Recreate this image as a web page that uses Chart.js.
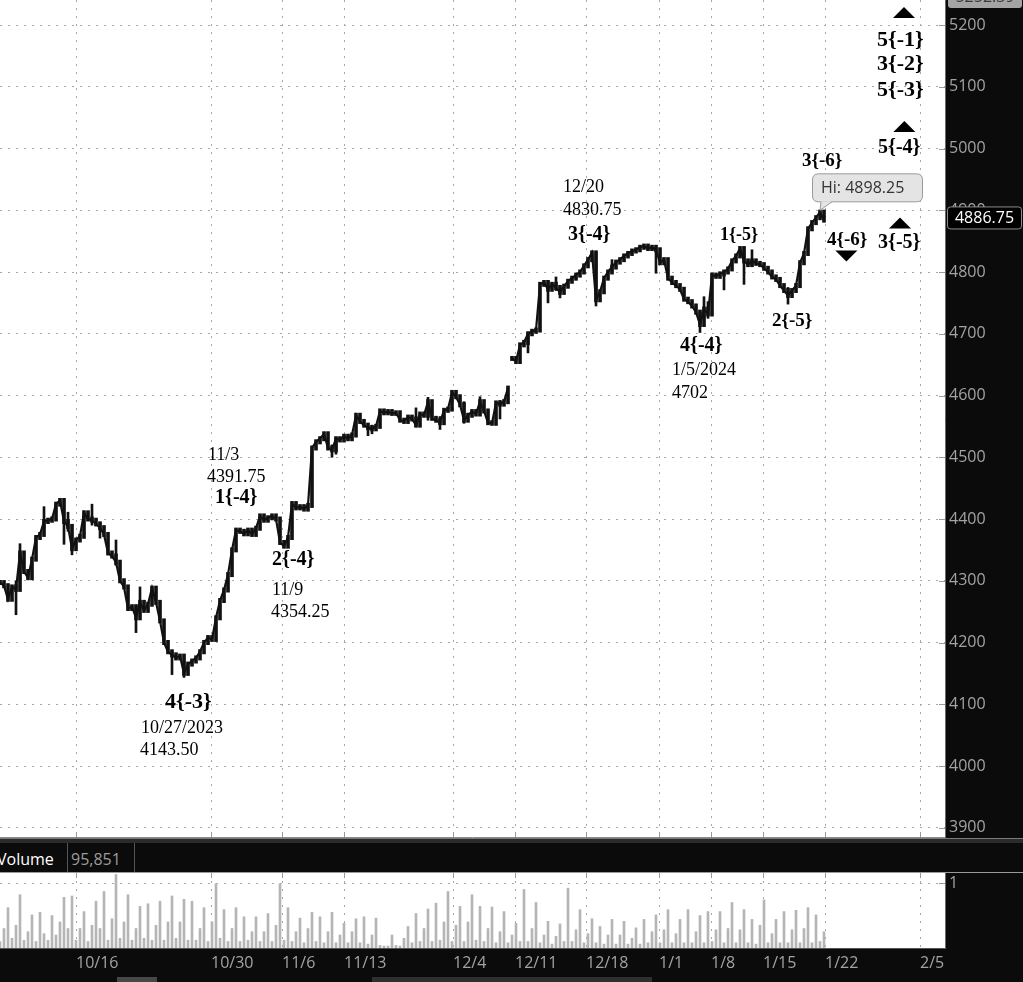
<!DOCTYPE html>
<html><head><meta charset="utf-8">
<script src="https://cdn.jsdelivr.net/npm/chart.js@4.4.1/dist/chart.umd.min.js"></script>
<style>
html,body{margin:0;padding:0;background:#fff;}
#wrap{position:relative;width:1023px;height:982px;overflow:hidden;background:#fff;font-family:"Open Sans",sans-serif;}
#pwrap{position:absolute;left:0;top:0;width:1023px;height:838px;}
#hdr{position:absolute;left:0;top:838px;width:1023px;height:35px;background:#0b0b0b;}
#vwrap{position:absolute;left:0;top:873px;width:1023px;height:109px;}
.hl{position:absolute;left:0;width:1023px;}
.txt{position:absolute;top:10px;line-height:22px;font-size:16px;font-family:"Open Sans",sans-serif;white-space:nowrap;}
.sep{position:absolute;top:5px;width:1px;height:29px;background:#555;}
</style></head>
<body>
<div id="wrap">
  <div id="pwrap"><canvas id="pcan" width="1023" height="838"></canvas></div>
  <div id="hdr">
    <div class="hl" style="top:0;height:1px;background:#7a7a7a"></div>
    <div class="hl" style="top:1px;height:4px;background:#2b2b2b"></div>
    <div class="hl" style="top:34px;height:1px;background:#9a9a9a"></div>
    <span class="txt" style="left:-3px;color:#fff">Volume</span>
    <div class="sep" style="left:67px"></div>
    <span class="txt" style="left:71px;color:#9c9c9c">95,851</span>
    <div class="sep" style="left:134px"></div>
  </div>
  <div id="vwrap"><canvas id="vcan" width="1023" height="109"></canvas></div>
</div>
<script>
// ---------- DATA ----------
const dateLabels  = ['10/16','10/30','11/6','11/13','12/4','12/11','12/18','1/1','1/8','1/15','1/22','2/5'];
const dateTickPos = [19, 52.75, 70.5, 86, 113.25, 128.75, 146.5, 164.75, 177.75, 190.75, 206.25, 230];
const yTicks   = [3900,4000,4100,4200,4300,4400,4500,4600,4700,4800,4900,5000,5100,5200];
const volTicks = [1];

const closes = [
 4297,4292,4270,4290,4286,4345,4315,4305,4335,4370,
 4375,4396,4398,4400,4424,4430,4396,4388,4352,4366,
 4372,4410,4400,4398,4392,4386,4375,4345,4340,4330,
 4300,4290,4255,4258,4240,4265,4252,4262,4288,4265,
 4235,4200,4185,4180,4175,4178,4150,4165,4170,4175,
 4185,4200,4208,4205,4240,4268,4285,4310,4350,4382,
 4380,4376,4382,4375,4385,4405,4398,4402,4405,4400,
 4362,4356,4370,4425,4418,4420,4416,4422,4515,4525,
 4530,4538,4515,4512,4530,4528,4534,4530,4536,4568,
 4558,4552,4548,4546,4550,4575,4572,4574,4571,4572,
 4560,4558,4565,4562,4552,4570,4568,4590,4563,4560,
 4556,4576,4578,4605,4598,4585,4560,4568,4574,4570,
 4590,4575,4556,4555,4588,4586,4590,4612,4660,4655,
 4682,4686,4700,4704,4706,4780,4783,4772,4780,4775,
 4767,4777,4785,4790,4795,4800,4810,4820,4831,4755,
 4768,4790,4800,4808,4816,4820,4826,4830,4834,4836,
 4840,4842,4838,4840,4836,4815,4820,4790,4783,4778,
 4772,4756,4752,4745,4735,4715,4740,4732,4795,4793,
 4797,4800,4805,4818,4826,4838,4818,4812,4818,4814,
 4812,4806,4800,4792,4788,4778,4770,4762,4770,4778,
 4815,4830,4870,4880,4888,4897,4884
];
const gapAfter = [127];

const wickIdx = [4,5,11,16,17,18,23,25,29,34,35,43,46,83,84,92,93,104,107,110,116,120,125,132,137,139,140,149,153,164,175,176,177,181,186,188,197];
const wickLo  = [4245,4300,4385,4359,4380,4342,4390,4369,4325,4216,4255,4148,4143.5,4500,4505,4535,4538,4550,4560,4545,4555,4570,4562,4669,4750,4770,4758,4745,4800,4798,4702,4725,4725,4771,4780,4810,4748];
const wickHi  = [4300,4360,4420,4400,4411,4365,4424,4395,4366,4260,4290,4185,4170,4520,4532,4550,4552,4580,4597,4566,4590,4598,4592,4702,4785,4792,4775,4832,4820,4840,4735,4760,4752,4800,4840,4836,4775];

const volume = [
 0.10,0.30,0.62,0.15,0.35,0.82,0.12,0.25,0.51,0.10,
 0.55,0.22,0.12,0.50,0.20,0.40,0.78,0.30,0.80,0.12,
 0.30,0.56,0.10,0.35,0.72,0.30,0.87,0.12,0.45,1.13,
 0.15,0.40,0.82,0.12,0.30,0.64,0.15,0.68,0.12,0.35,
 0.72,0.12,0.40,0.80,0.15,0.40,0.75,0.12,0.72,0.12,
 0.30,0.62,0.10,0.40,0.99,0.15,0.59,0.10,0.30,0.62,
 0.10,0.48,0.12,0.25,0.48,0.10,0.25,0.53,0.10,0.35,
 0.99,0.12,0.62,0.10,0.25,0.46,0.08,0.30,0.55,0.10,
 0.48,0.08,0.25,0.55,0.08,0.20,0.38,0.08,0.25,0.45,
 0.08,0.48,0.06,0.20,0.46,0.04,0.03,0.03,0.20,0.04,
 0.03,0.15,0.33,0.08,0.53,0.10,0.30,0.60,0.10,0.69,
 0.12,0.40,0.87,0.10,0.35,0.64,0.10,0.40,0.82,0.12,
 0.64,0.10,0.30,0.63,0.08,0.25,0.56,0.08,0.20,0.38,
 0.10,0.90,0.10,0.30,0.70,0.08,0.20,0.41,0.06,0.18,
 0.37,0.10,0.92,0.10,0.28,0.59,0.08,0.22,0.45,0.08,
 0.33,0.06,0.20,0.44,0.06,0.20,0.41,0.06,0.15,0.31,
 0.06,0.44,0.08,0.25,0.51,0.08,0.28,0.59,0.08,0.22,
 0.44,0.08,0.59,0.08,0.25,0.50,0.08,0.56,0.10,0.28,
 0.56,0.08,0.30,0.70,0.08,0.28,0.59,0.08,0.44,0.06,
 0.35,0.74,0.08,0.22,0.44,0.08,0.56,0.08,0.28,0.58,
 0.08,0.30,0.62,0.08,0.51,0.10,0.25
];

const lastPrice = 4886.75;
const topPriceLabel = '5252.39';
const hiIdx = 205, hiVal = 4898.25, hiText = 'Hi: 4898.25';

const annText = ['4{-3}','10/27/2023','4143.50','11/3','4391.75','1{-4}','2{-4}','11/9','4354.25','12/20','4830.75','3{-4}','4{-4}','1/5/2024','4702','1{-5}','2{-5}','3{-6}','4{-6}','3{-5}','5{-4}','5{-1}','3{-2}','5{-3}'];
const annIdx  = [41.25,35.25,35,52,51.75,53.75,68,68,67.75,140.75,140.75,142,170,168,168,180,193,200.5,206.75,219.5,219.5,219.25,219.25,219.25];
const annVal  = [4094,4053.5,4017.8,4495.6,4459.9,4425.9,4325.5,4276.9,4241.3,4929.6,4892.3,4851.8,4672.1,4633.2,4596,4851.8,4712.6,4971.7,4843.7,4838.9,4992.7,5166,5127.1,5085];
const annBold = [1,0,0,0,0,1,1,0,0,0,0,1,1,0,0,1,1,1,1,1,1,1,1,1];
const annSize = [22,18,18,18,18,20,20,18,18,18,18,20,20,18,18,18,19,19,19,20,20,22,22,22];

const triIdx = [226, 226.1, 225, 211.6];
const triVal = [5220.2, 5035.6, 4879.4, 4825.9];
const triDir = [1, 1, 1, -1];

// ---------- HELPERS ----------
function rrect(ctx, x, y, w, h, r){
  ctx.beginPath();
  ctx.moveTo(x+r,y); ctx.lineTo(x+w-r,y); ctx.quadraticCurveTo(x+w,y,x+w,y+r);
  ctx.lineTo(x+w,y+h-r); ctx.quadraticCurveTo(x+w,y+h,x+w-r,y+h);
  ctx.lineTo(x+r,y+h); ctx.quadraticCurveTo(x,y+h,x,y+h-r);
  ctx.lineTo(x,y+r); ctx.quadraticCurveTo(x,y,x+r,y); ctx.closePath();
}
const GRID = '#a9a9a9';
const TICKC = '#a3a3a3';
const AXBG = '#0b0b0b';
const X_MAX = 236.25;
const noPad = s => { s.paddingTop = 0; s.paddingBottom = 0; s.paddingLeft = 0; s.paddingRight = 0; };

const rangeBars = closes.map((v,i)=>{
  const p = (i>0 && !gapAfter.includes(i-1)) ? closes[i-1] : v;
  return {x:i, y:[Math.min(p,v)-3.5, Math.max(p,v)+3.5]};
});

// ---------- PRICE CHART ----------
const pricePanel = {
  id:'pricePanel',
  beforeDraw(chart){
    const {ctx, chartArea:a, width, height} = chart;
    ctx.save();
    ctx.fillStyle='#fff'; ctx.fillRect(0,0,width,height);
    ctx.fillStyle=AXBG; ctx.fillRect(a.right,0,width-a.right,height);
    ctx.restore();
  },
  afterDatasetsDraw(chart){
    const {ctx, scales:{x,y}} = chart;
    ctx.save();
    ctx.fillStyle='#000'; ctx.textAlign='left'; ctx.textBaseline='alphabetic';
    annText.forEach((t,k)=>{
      ctx.font = (annBold[k]?'bold ':'') + annSize[k] + 'px "Liberation Serif", "Times New Roman", serif';
      ctx.fillText(t, x.getPixelForValue(annIdx[k]), y.getPixelForValue(annVal[k]));
    });
    triIdx.forEach((ti,k)=>{
      const cx = x.getPixelForValue(ti), cy = y.getPixelForValue(triVal[k]);
      const hw = 11, hh = 5.5, d = triDir[k];
      ctx.beginPath();
      ctx.moveTo(cx, cy - d*hh);
      ctx.lineTo(cx+hw, cy + d*hh);
      ctx.lineTo(cx-hw, cy + d*hh);
      ctx.closePath(); ctx.fill();
    });
    const hx = x.getPixelForValue(hiIdx), hy = y.getPixelForValue(hiVal);
    const bx = hx-8, by = hy-38, bw = 110, bh = 28;
    ctx.fillStyle='#e4e4e4'; ctx.strokeStyle='#9a9a9a'; ctx.lineWidth=1;
    rrect(ctx, bx+0.5, by+0.5, bw, bh, 6); ctx.fill(); ctx.stroke();
    ctx.beginPath();
    ctx.moveTo(hx+1, by+bh); ctx.lineTo(hx, hy-1); ctx.lineTo(hx+12, by+bh);
    ctx.closePath(); ctx.fill();
    ctx.beginPath(); ctx.moveTo(hx+1, by+bh+0.5); ctx.lineTo(hx, hy-1); ctx.lineTo(hx+12, by+bh+0.5); ctx.stroke();
    ctx.fillStyle='#333'; ctx.font='16px "Open Sans", sans-serif'; ctx.textBaseline='middle';
    ctx.fillText(hiText, bx+9, by+bh/2+1);
    ctx.restore();
  },
  afterDraw(chart){
    const {ctx, chartArea:a, scales:{x,y}} = chart;
    ctx.save();
    ctx.strokeStyle='#9a9a9a'; ctx.lineWidth=1;
    yTicks.forEach(v=>{const py=Math.round(y.getPixelForValue(v))+0.5; ctx.beginPath(); ctx.moveTo(a.right-6,py); ctx.lineTo(a.right,py); ctx.stroke();});
    dateTickPos.forEach(v=>{const px=Math.round(x.getPixelForValue(v))+0.5; ctx.beginPath(); ctx.moveTo(px,a.bottom-6); ctx.lineTo(px,a.bottom); ctx.stroke();});
    ctx.strokeStyle='#8a8a8a';
    ctx.beginPath(); ctx.moveTo(0,a.bottom-0.5); ctx.lineTo(a.right,a.bottom-0.5); ctx.stroke();
    ctx.fillStyle='#a4a4a4';
    rrect(ctx, a.right+3, -14, 74, 22, 3); ctx.fill();
    ctx.fillStyle='#3a3a3a'; ctx.font='16px "Open Sans", sans-serif'; ctx.textAlign='center'; ctx.textBaseline='middle';
    ctx.fillText(topPriceLabel, a.right+40, -3);
    const ly = y.getPixelForValue(lastPrice);
    ctx.fillStyle='#000'; ctx.strokeStyle='#8c8c8c';
    rrect(ctx, a.right+2.5, ly-11.5, 74, 22, 3); ctx.fill(); ctx.stroke();
    ctx.fillStyle='#fff';
    ctx.fillText(lastPrice.toFixed(2), a.right+39.5, ly);
    ctx.restore();
  }
};

new Chart(document.getElementById('pcan'), {
  type:'line',
  data:{ datasets:[
    { type:'line', data: closes.map((v,i)=>({x:i,y:v})), borderColor:'#111', borderWidth:2.2,
      borderJoinStyle:'miter', pointRadius:0, tension:0, order:1,
      segment:{ borderColor: c => gapAfter.includes(c.p0DataIndex) ? 'rgba(0,0,0,0)' : '#111' } },
    { type:'bar', data: rangeBars, backgroundColor:'#111', barThickness:3, order:2 },
    { type:'bar', data: wickIdx.map((i,k)=>({x:i, y:[wickLo[k], wickHi[k]]})), backgroundColor:'#111',
      barThickness:2, order:3 }
  ]},
  options:{
    responsive:false, animation:false, maintainAspectRatio:false,
    layout:{padding:0},
    plugins:{legend:{display:false}, tooltip:{enabled:false}},
    datasets:{bar:{grouped:false}},
    scales:{
      x:{ type:'linear', min:0, max:X_MAX, offset:false,
          afterBuildTicks: s => { s.ticks = dateTickPos.map(v=>({value:v})); },
          afterFit: s => { s.height = 0; noPad(s); },
          ticks:{display:false}, grid:{color:GRID, drawTicks:false, offset:false},
          border:{display:false, dash:[2,6]} },
      y:{ position:'right', min:3883.4, max:5240.5,
          afterBuildTicks: s => { s.ticks = yTicks.map(v=>({value:v})); },
          afterFit: s => { s.width = 78; noPad(s); },
          ticks:{color:TICKC, font:{family:'"Open Sans", sans-serif', size:16}, padding:4, callback:v=>String(v)},
          grid:{color:GRID, drawTicks:false},
          border:{display:true, color:'#6a6a6a', width:1, dash:[2,6]} }
    }
  },
  plugins:[pricePanel]
});

// ---------- VOLUME CHART ----------
const volPanel = {
  id:'volPanel',
  beforeDraw(chart){
    const {ctx, chartArea:a, width, height} = chart;
    ctx.save();
    ctx.fillStyle='#fff'; ctx.fillRect(0,0,width,height);
    ctx.fillStyle=AXBG; ctx.fillRect(a.right,0,width-a.right,height);
    ctx.fillRect(0,a.bottom,width,height-a.bottom);
    ctx.restore();
  },
  afterDraw(chart){
    const {ctx, chartArea:a, scales:{x,y}} = chart;
    ctx.save();
    ctx.strokeStyle='#9a9a9a'; ctx.lineWidth=1;
    volTicks.forEach(v=>{const py=Math.round(y.getPixelForValue(v))+0.5; ctx.beginPath(); ctx.moveTo(a.right-6,py); ctx.lineTo(a.right,py); ctx.stroke();});
    dateTickPos.forEach(v=>{const px=Math.round(x.getPixelForValue(v))+0.5; ctx.beginPath(); ctx.moveTo(px,a.top); ctx.lineTo(px,a.top+5); ctx.stroke();});
    ctx.strokeStyle='#555';
    ctx.beginPath(); ctx.moveTo(0,a.bottom+0.5); ctx.lineTo(a.right,a.bottom+0.5); ctx.stroke();
    ctx.fillStyle='#2f2f2f'; ctx.fillRect(372, a.bottom+29, 280, 5);
    ctx.fillStyle='#474747'; ctx.fillRect(117, a.bottom+29, 40, 5);
    ctx.restore();
  }
};

new Chart(document.getElementById('vcan'), {
  type:'bar',
  data:{ datasets:[{ data: volume.map((v,i)=>({x:i,y:v})), backgroundColor:'#b5b5b5', barThickness:2 }] },
  options:{
    responsive:false, animation:false, maintainAspectRatio:false,
    layout:{padding:0},
    plugins:{legend:{display:false}, tooltip:{enabled:false}},
    scales:{
      x:{ type:'linear', min:0, max:X_MAX, offset:false,
          afterBuildTicks: s => { s.ticks = dateTickPos.map(v=>({value:v})); },
          afterFit: s => { s.height = 34; noPad(s); },
          ticks:{color:TICKC, font:{family:'"Open Sans", sans-serif', size:16}, align:'start', padding:6,
                 maxRotation:0, autoSkip:false, callback:(v,idx)=>dateLabels[idx]},
          grid:{color:GRID, drawTicks:false, offset:false},
          border:{display:false, dash:[2,6]} },
      y:{ position:'right', min:0, max:1.154,
          afterBuildTicks: s => { s.ticks = volTicks.map(v=>({value:v})); },
          afterFit: s => { s.width = 78; noPad(s); },
          ticks:{color:TICKC, font:{family:'"Open Sans", sans-serif', size:16}, padding:4, callback:v=>String(v)},
          grid:{color:GRID, drawTicks:false},
          border:{display:true, color:'#6a6a6a', width:1, dash:[2,6]} }
    }
  },
  plugins:[volPanel]
});
</script>
</body></html>
